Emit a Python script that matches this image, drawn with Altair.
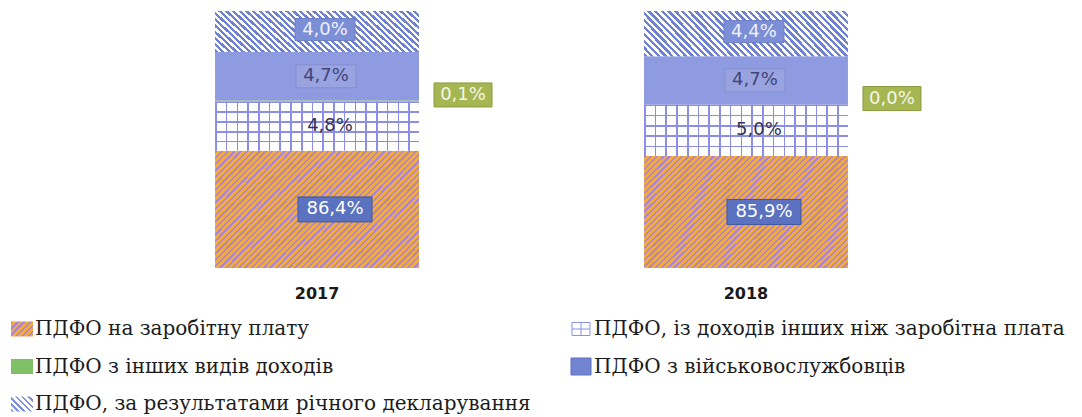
import altair as alt
import pandas as pd

# ---------------- data ----------------
years = ["2017", "2018"]
series = [
    "ПДФО на заробітну плату",
    "ПДФО, із доходів  інших ніж заробітна плата",
    "ПДФО з інших видів доходів",
    "ПДФО з військовослужбовців",
    "ПДФО, за результатами річного декларування",
]
values_2017 = [86.4, 4.8, 0.1, 4.7, 4.0]
values_2018 = [85.9, 5.0, 0.0, 4.7, 4.4]
y_min = 75  # the value axis of the original starts here (truncated)

rows = []
for yr, vals in zip(years, [values_2017, values_2018]):
    for i, (s, v) in enumerate(zip(series, vals)):
        rows.append({"year": yr, "series": s, "order": i, "value": v})
df = pd.DataFrame(rows)
legend_df = pd.DataFrame({"series": series, "order": list(range(len(series)))})


# ---------------- pattern helpers (gradients with hard stops) ----------------
def stripes(line, bg, n, frac, x1, y1, x2, y2):
    stops = []
    for i in range(n):
        a = round(i / n, 5)
        b = round((i + frac) / n, 5)
        c = round((i + 1) / n, 5)
        stops += [
            alt.GradientStop(offset=a, color=line),
            alt.GradientStop(offset=b, color=line),
            alt.GradientStop(offset=b, color=bg),
            alt.GradientStop(offset=c, color=bg),
        ]
    return alt.LinearGradient(gradient="linear", stops=stops, x1=x1, y1=y1, x2=x2, y2=y2)


def diag(line, bg, w, h, period, frac, forward=True):
    r = h / w
    a = (1 + r) / (1 + r * r)
    n = max(1, round((w + h) / 2 ** 0.5 / period))
    if forward:  # "///"
        return stripes(line, bg, n, frac, 0, 0, round(a, 4), round(a * r, 4))
    return stripes(line, bg, n, frac, 0, 1, round(a, 4), round(1 - a * r, 4))  # "\\\"


def rect_shape(w, h):
    k = round(h / w, 4)
    return f"M-1,-{k}H1V{k}H-1Z"


ORANGE = "#f3a93c"
STRIPE = "#ad86c8"
GRIDLINE = "#8c8de6"
HATCH = "#6f82d2"

orange_fill = diag(STRIPE, ORANGE, 204, 115, 4.4, 0.38, True)
hatch_fill = diag(HATCH, "#ffffff", 204, 44, 4.8, 0.5, False)
grid_v = stripes(GRIDLINE, "#ffffff", 19, 0.15, 0, 0, 1, 0)
grid_h = stripes(GRIDLINE, "rgba(255,255,255,0)", 5, 0.15, 0, 0, 0, 1)

# ---------------- main stacked chart ----------------
x_enc = alt.X(
    "year:N",
    scale=alt.Scale(paddingInner=0.5245, paddingOuter=0.478),
    axis=alt.Axis(
        title=None, labelAngle=0, ticks=False, domain=False, labelPadding=17,
        labelFont="DejaVu Sans", labelFontWeight="bold", labelFontSize=16,
        labelColor="#1a1a1a",
    ),
)
y_scale = alt.Scale(domain=[y_min, 100], clamp=True, nice=False, zero=False)

base = alt.Chart(df).transform_stack(
    stack="value", groupby=["year"], as_=["y0", "y1"],
    sort=[alt.SortField("order", order="ascending")],
).transform_calculate(
    mid=f"(max(datum.y0, {y_min}) + datum.y1) / 2",
    label="replace(format(datum.value, '.1f'), '.', ',') + '%'",
)


def seg(order, fill):
    return base.transform_filter(alt.datum.order == order).mark_bar(fill=fill).encode(
        x=x_enc,
        y=alt.Y("y0:Q", scale=y_scale, axis=None),
        y2="y1:Q",
    )


segments = [
    seg(0, orange_fill),
    seg(1, grid_v),
    seg(1, grid_h),
    seg(2, "#8dbf50"),
    seg(3, "#8e9be0"),
    seg(4, hatch_fill),
]

label_styles = {
    0: dict(box="#5a72c0", stroke="#41589f", text="#ffffff", w=74, h=25, dx=18, dy=0),
    1: dict(box=None, text="#333355", dx=13, dy=0),
    2: dict(box="#a6b653", stroke="#8b9a3f", text="#f4f6e8", w=58, h=24, dx=146, dy=-6),
    3: dict(box="#98a3e0", stroke="#8590d0", text="#444478", w=60, h=23, dx=9, dy=0),
    4: dict(box="#7c8ed6", stroke="#6d7fca", text="#eef0ff", w=60, h=22, dx=8, dy=-2),
}

labels = []
for order, st in label_styles.items():
    lb = base.transform_filter(alt.datum.order == order)
    enc = dict(x=x_enc, y=alt.Y("mid:Q", scale=y_scale, axis=None))
    if st["box"]:
        labels.append(
            lb.mark_point(
                shape=rect_shape(st["w"], st["h"]), size=st["w"] ** 2, filled=True,
                fill=st["box"], stroke=st["stroke"], strokeWidth=1, opacity=1,
                xOffset=st["dx"], yOffset=st["dy"],
            ).encode(**enc)
        )
    labels.append(
        lb.mark_text(
            font="DejaVu Sans", fontSize=18, color=st["text"], align="center",
            baseline="middle", xOffset=st["dx"], yOffset=st["dy"],
        ).encode(text="label:N", **enc)
    )

main = alt.layer(*segments, *labels).properties(width=1043, height=257)

# ---------------- legend (drawn as its own little chart) ----------------
lbase = alt.Chart(legend_df).transform_calculate(
    col="datum.order % 2", row="floor(datum.order / 2)"
)
lx = alt.X("col:Q", scale=alt.Scale(domain=[0, 1], range=[12, 571]), axis=None)
ly = alt.Y("row:Q", scale=alt.Scale(domain=[0, 2], range=[9, 84]), axis=None)


def lsym(order, w, h, **kw):
    kw.setdefault("filled", True)
    return lbase.transform_filter(alt.datum.order == order).mark_point(
        shape=rect_shape(w, h), size=w * w, opacity=1, **kw
    ).encode(x=lx, y=ly)


legend_marks = [
    lsym(0, 22, 15, fill=diag(STRIPE, ORANGE, 22, 15, 4.2, 0.4, True)),
    lsym(1, 18, 13, fill="#ffffff", stroke="#8a93e0", strokeWidth=1),
    lbase.transform_filter(alt.datum.order == 1).mark_point(
        shape="M-1,0H1M0,-0.72V0.72", size=18 * 18, filled=False, opacity=1,
        stroke="#8a93e0", strokeWidth=1,
    ).encode(x=lx, y=ly),
    lsym(2, 22, 15, fill="#7fc066"),
    lsym(3, 20, 17, fill="#7283d2", stroke="#6070c2", strokeWidth=1),
    lsym(4, 22, 15, fill=diag("#7f90dc", "rgba(255,255,255,0)", 22, 15, 4.4, 0.45, False)),
    lbase.mark_text(
        align="left", baseline="middle", dx=13, font="DejaVu Serif",
        fontSize=20, color="#1c1c1c",
    ).encode(x=lx, y=ly, text="series:N"),
]
legend = alt.layer(*legend_marks).properties(width=1043, height=92)

chart = alt.vconcat(main, legend, spacing=18).properties(
    padding={"left": 2, "top": 3, "right": 0, "bottom": 0}
).configure_view(stroke=None)

chart.save("out.html", embed_options={"renderer": "svg", "actions": False})
